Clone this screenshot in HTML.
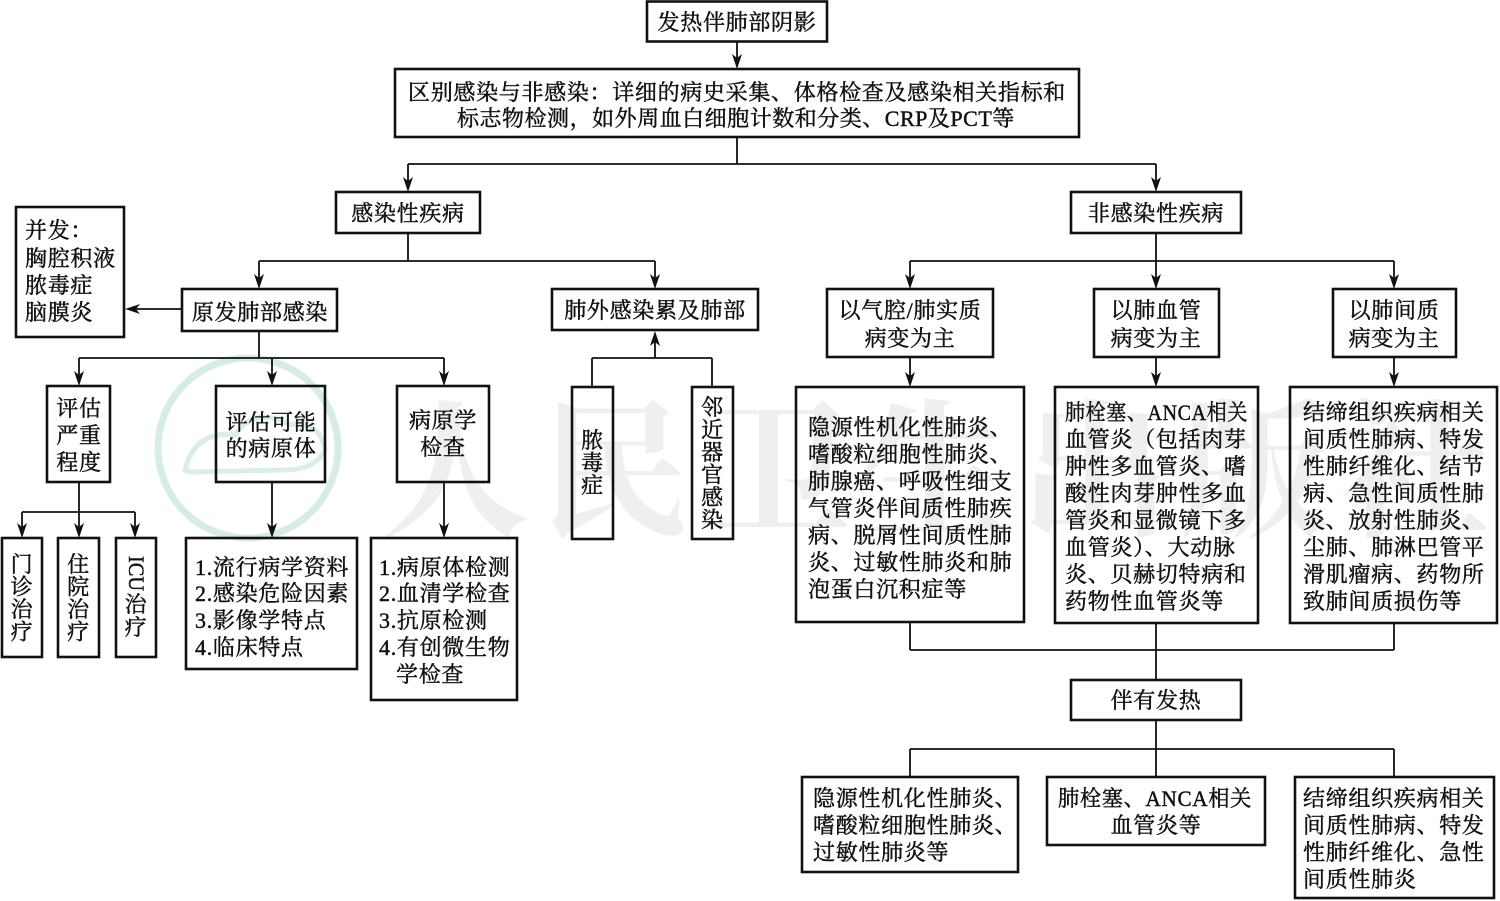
<!DOCTYPE html>
<html><head><meta charset="utf-8"><style>
html,body{margin:0;padding:0;background:#fff;}
svg{display:block;}
text{font-family:"Liberation Serif","Noto Serif CJK SC",serif;font-size:22px;fill:#111;letter-spacing:0.7px;stroke:#111;stroke-width:0.45px;}
.wm{font-family:"Liberation Serif","Noto Serif CJK SC",serif;font-size:150px;fill:#efefef;stroke:none;letter-spacing:10px;font-weight:bold;}
.b{fill:none;stroke:#111;stroke-width:2.6;}
.l{fill:none;stroke:#111;stroke-width:1.8;}
.c{text-anchor:middle;}
</style></head><body>
<svg width="1500" height="901" viewBox="0 0 1500 901" xmlns="http://www.w3.org/2000/svg">
<!-- watermark -->
<circle cx="248" cy="448" r="90" fill="none" stroke="#d6ece7" stroke-width="7"/>
<path d="M185 470 q10 -40 50 -35 q20 -30 55 -10 q30 -5 35 25 q-10 20 -40 20 L190 472 Z" fill="none" stroke="#d9eee9" stroke-width="5"/>
<text class="wm" x="380" y="525">人民卫生出版社</text>

<!-- connectors -->
<g class="l">
<path d="M737 42V60"/>
<path d="M737 137V164M408 164H1156M408 164V182M1156 164V182"/>
<path d="M408 233V261M259 261H655M259 261V279M655 261V279"/>
<path d="M1156 233V261M910 261H1394M910 261V279M1156 261V279M1394 261V279"/>
<path d="M182 309H134"/>
<path d="M259 331V358M79 358H444M79 358V376M272 358V376M444 358V376"/>
<path d="M655 341V358M592 358H712M592 358V387M712 358V387"/>
<path d="M910 357V377M1156 357V377M1394 357V377"/>
<path d="M79 482V512M22 512H135M22 512V528M79 512V528M135 512V528"/>
<path d="M272 482V528M444 482V528"/>
<path d="M910 622V650M1156 623V680M1394 623V650M910 650H1394"/>
<path d="M1156 720V749M910 749H1394M910 749V777M1156 749V777M1394 749V777"/>
</g>
<!-- arrowheads -->
<g fill="#111">
<path d="M737 69l-5 -15l5 4l5 -4z"/>
<path d="M408 192l-5 -15l5 4l5 -4z"/>
<path d="M1156 192l-5 -15l5 4l5 -4z"/>
<path d="M259 289l-5 -15l5 4l5 -4z"/>
<path d="M655 289l-5 -15l5 4l5 -4z"/>
<path d="M910 289l-5 -15l5 4l5 -4z"/>
<path d="M1156 289l-5 -15l5 4l5 -4z"/>
<path d="M1394 289l-5 -15l5 4l5 -4z"/>
<path d="M79 386l-5 -15l5 4l5 -4z"/>
<path d="M272 386l-5 -15l5 4l5 -4z"/>
<path d="M444 386l-5 -15l5 4l5 -4z"/>
<path d="M910 387l-5 -15l5 4l5 -4z"/>
<path d="M1156 387l-5 -15l5 4l5 -4z"/>
<path d="M1394 387l-5 -15l5 4l5 -4z"/>
<path d="M22 538l-5 -15l5 4l5 -4z"/>
<path d="M79 538l-5 -15l5 4l5 -4z"/>
<path d="M135 538l-5 -15l5 4l5 -4z"/>
<path d="M272 538l-5 -15l5 4l5 -4z"/>
<path d="M444 538l-5 -15l5 4l5 -4z"/>
<path d="M655 331l-5 15l5 -4l5 4z"/>
<path d="M125 309l15 -5l-4 5l4 5z"/>
</g>

<!-- boxes -->
<g class="b">
<rect x="647" y="1.5" width="180" height="40"/>
<rect x="395" y="69" width="684" height="68"/>
<rect x="336" y="192" width="144" height="41"/>
<rect x="1071" y="192" width="170" height="41"/>
<rect x="16" y="207" width="108" height="130"/>
<rect x="182" y="289" width="155" height="42"/>
<rect x="552" y="289" width="206" height="41"/>
<rect x="827" y="289" width="166" height="68"/>
<rect x="1094" y="289" width="125" height="68"/>
<rect x="1333" y="289" width="123" height="68"/>
<rect x="47" y="386" width="63" height="96"/>
<rect x="216" y="386" width="109" height="96"/>
<rect x="397" y="386" width="92" height="96"/>
<rect x="572" y="387" width="41" height="152"/>
<rect x="692" y="387" width="41" height="152"/>
<rect x="796" y="387" width="228" height="235"/>
<rect x="1055" y="387" width="203" height="236"/>
<rect x="1290" y="387" width="207" height="236"/>
<rect x="2" y="538" width="40" height="119"/>
<rect x="58" y="538" width="41" height="119"/>
<rect x="116" y="538" width="40" height="119"/>
<rect x="186" y="538" width="171" height="131"/>
<rect x="371" y="538" width="146" height="162"/>
<rect x="1071" y="680" width="170" height="40"/>
<rect x="802" y="777" width="216" height="95"/>
<rect x="1047" y="777" width="218" height="68"/>
<rect x="1295" y="777" width="199" height="121"/>
</g>

<!-- texts -->
<text class="c" x="737" y="30">发热伴肺部阴影</text>
<text x="408" y="100" textLength="658" lengthAdjust="spacing">区别感染与非感染：详细的病史采集、体格检查及感染相关指标和</text>
<text x="457" y="126" textLength="558" lengthAdjust="spacing">标志物检测，如外周血白细胞计数和分类、CRP及PCT等</text>

<text class="c" x="408" y="221">感染性疾病</text>
<text class="c" x="1156" y="221">非感染性疾病</text>

<text x="25" y="238">并发：</text>
<text x="25" y="266">胸腔积液</text>
<text x="25" y="293">脓毒症</text>
<text x="25" y="320">脑膜炎</text>

<text class="c" x="260" y="320">原发肺部感染</text>
<text class="c" x="655" y="318">肺外感染累及肺部</text>

<text class="c" x="910" y="318">以气腔/肺实质</text>
<text class="c" x="910" y="346">病变为主</text>
<text class="c" x="1156" y="318">以肺血管</text>
<text class="c" x="1156" y="346">病变为主</text>
<text class="c" x="1394" y="318">以肺间质</text>
<text class="c" x="1394" y="346">病变为主</text>

<text class="c" x="79" y="416">评估</text>
<text class="c" x="79" y="443">严重</text>
<text class="c" x="79" y="470">程度</text>

<text class="c" x="271" y="430">评估可能</text>
<text class="c" x="271" y="456">的病原体</text>

<text class="c" x="443" y="428">病原学</text>
<text class="c" x="443" y="455">检查</text>

<!-- vertical texts -->
<text class="c" x="592.5" y="448">脓</text>
<text class="c" x="592.5" y="470.5">毒</text>
<text class="c" x="592.5" y="493">症</text>

<text class="c" x="712.5" y="415">邻</text>
<text class="c" x="712.5" y="437.5">近</text>
<text class="c" x="712.5" y="460">器</text>
<text class="c" x="712.5" y="482.5">官</text>
<text class="c" x="712.5" y="505">感</text>
<text class="c" x="712.5" y="527.5">染</text>

<text class="c" x="22" y="572">门</text>
<text class="c" x="22" y="594.5">诊</text>
<text class="c" x="22" y="617">治</text>
<text class="c" x="22" y="639.5">疗</text>

<text class="c" x="78.5" y="572">住</text>
<text class="c" x="78.5" y="594.5">院</text>
<text class="c" x="78.5" y="617">治</text>
<text class="c" x="78.5" y="639.5">疗</text>

<text transform="translate(129,556) rotate(90)" x="0" y="0" style="letter-spacing:0;text-anchor:start" textLength="35" lengthAdjust="spacingAndGlyphs">ICU</text>
<text class="c" x="136" y="612">治</text>
<text class="c" x="136" y="635">疗</text>

<text x="195" y="575">1.流行病学资料</text>
<text x="195" y="601">2.感染危险因素</text>
<text x="195" y="628">3.影像学特点</text>
<text x="195" y="655">4.临床特点</text>

<text x="379" y="575">1.病原体检测</text>
<text x="379" y="601">2.血清学检查</text>
<text x="379" y="628">3.抗原检测</text>
<text x="379" y="655">4.有创微生物</text>
<text x="396" y="682">学检查</text>

<text x="808" y="435">隐源性机化性肺炎、</text>
<text x="808" y="462">嗜酸粒细胞性肺炎、</text>
<text x="808" y="489">肺腺癌、呼吸性细支</text>
<text x="808" y="516">气管炎伴间质性肺疾</text>
<text x="808" y="543">病、脱屑性间质性肺</text>
<text x="808" y="570">炎、过敏性肺炎和肺</text>
<text x="808" y="597">泡蛋白沉积症等</text>

<text x="1065" y="420" textLength="183" lengthAdjust="spacingAndGlyphs">肺栓塞、ANCA相关</text>
<text x="1065" y="447">血管炎（包括肉芽</text>
<text x="1065" y="474">肿性多血管炎、嗜</text>
<text x="1065" y="501">酸性肉芽肿性多血</text>
<text x="1065" y="528">管炎和显微镜下多</text>
<text x="1065" y="555">血管炎）、大动脉</text>
<text x="1065" y="582">炎、贝赫切特病和</text>
<text x="1065" y="609">药物性血管炎等</text>

<text x="1303" y="420">结缔组织疾病相关</text>
<text x="1303" y="447">间质性肺病、特发</text>
<text x="1303" y="474">性肺纤维化、结节</text>
<text x="1303" y="501">病、急性间质性肺</text>
<text x="1303" y="528">炎、放射性肺炎、</text>
<text x="1303" y="555">尘肺、肺淋巴管平</text>
<text x="1303" y="582">滑肌瘤病、药物所</text>
<text x="1303" y="609">致肺间质损伤等</text>

<text class="c" x="1156" y="708">伴有发热</text>

<text x="813" y="806">隐源性机化性肺炎、</text>
<text x="813" y="833">嗜酸粒细胞性肺炎、</text>
<text x="813" y="860">过敏性肺炎等</text>

<text x="1058" y="806" textLength="194" lengthAdjust="spacingAndGlyphs">肺栓塞、ANCA相关</text>
<text class="c" x="1156" y="833">血管炎等</text>

<text x="1303" y="806">结缔组织疾病相关</text>
<text x="1303" y="833">间质性肺病、特发</text>
<text x="1303" y="860">性肺纤维化、急性</text>
<text x="1303" y="887">间质性肺炎</text>
</svg>
</body></html>
